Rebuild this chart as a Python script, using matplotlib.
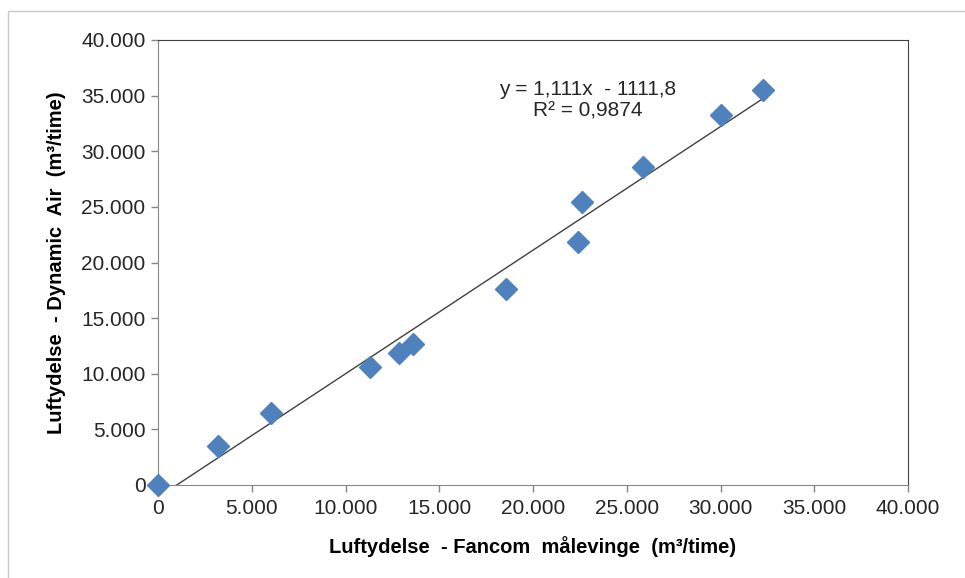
import numpy as np
import matplotlib
matplotlib.use("Agg")
import matplotlib.pyplot as plt
from matplotlib.ticker import FuncFormatter
from matplotlib.patches import Rectangle

plt.rcParams['font.family'] = ['Liberation Sans', 'DejaVu Sans']

# målte luftydelser (m3/time)
fancom = [0, 3200, 6000, 11300, 12850, 13600, 18550, 22400, 22600, 25850, 30000, 32250]
dynamic_air = [0, 3500, 6500, 10600, 11900, 12700, 17600, 21850, 25400, 28600, 33250, 35500]

slope = 1.111
intercept = -1111.8
r2_text = "R² = 0,9874"
ticks = [0, 5000, 10000, 15000, 20000, 25000, 30000, 35000, 40000]

fig = plt.figure(figsize=(9.65, 5.78), dpi=100)
ax = fig.add_axes([158 / 965, 1 - 485 / 578, 750 / 965, 445 / 578])

# ramme rundt om figuren (højre og nederste kant ligger uden for billedet)
fig.patches.append(Rectangle((8 / 965, -0.05), 1.0, 1.05 - 11 / 578,
                             transform=fig.transFigure, fill=False,
                             edgecolor='#c8c8c8', linewidth=1))

# tendenslinje fra nulpunkt til største måling
x0 = -intercept / slope
x_fit = np.array([x0, max(fancom)])
ax.plot(x_fit, slope * x_fit + intercept, color='#404040', linewidth=1, zorder=2)

ax.plot(fancom, dynamic_air, linestyle='none', marker='D', markersize=11,
        color='#4f81bd', markeredgecolor='#4f81bd', zorder=3, clip_on=False)

ax.set_xlim(0, 40000)
ax.set_ylim(0, 40000)
ax.set_xticks(ticks)
ax.set_yticks(ticks)
fmt = FuncFormatter(lambda v, p: f"{int(v):,}".replace(",", "."))
ax.xaxis.set_major_formatter(fmt)
ax.yaxis.set_major_formatter(fmt)
ax.tick_params(direction='out', length=5, width=1, color='#868686',
               labelsize=15, labelcolor='#262626')
ax.tick_params(axis='x', pad=5)
ax.tick_params(axis='y', pad=4)

for s in ['left', 'bottom']:
    ax.spines[s].set_color('#868686')
for s in ['top', 'right']:
    ax.spines[s].set_color('#404040')

ax.set_xlabel("Luftydelse  - Fancom  målevinge  (m³/time)", fontsize=14.5,
              fontweight='bold', labelpad=13)
ax.set_ylabel("Luftydelse  - Dynamic  Air  (m³/time)", fontsize=14.5,
              fontweight='bold', labelpad=11)

ax.text(0.573, 0.865, "y = 1,111x  - 1111,8\n" + r2_text, transform=ax.transAxes,
        ha='center', va='center', fontsize=15, color='#262626', linespacing=1.15)

fig.savefig("out.png", dpi=100)
